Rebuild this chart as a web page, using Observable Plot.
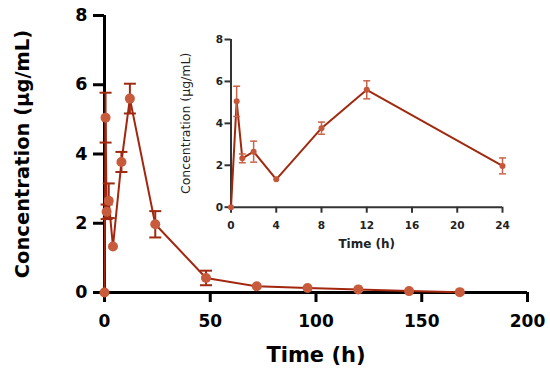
<!DOCTYPE html>
<html><head><meta charset="utf-8">
<script src="https://cdn.jsdelivr.net/npm/d3@7"></script>
<script src="https://cdn.jsdelivr.net/npm/@observablehq/plot@0.6"></script>
<style>
body{margin:0;background:#fff;}
#wrap{position:relative;width:550px;height:371px;overflow:hidden;}
#wrap svg{position:absolute;}
</style></head><body><div id="wrap"></div>
<script>
const times = [0, 0.5, 1, 2, 4, 8, 12, 24, 48, 72, 96, 120, 144, 168];
const conc  = [0, 5.05, 2.33, 2.65, 1.33, 3.77, 5.6, 1.97, 0.42, 0.18, 0.13, 0.09, 0.04, 0.01];
const sd    = [0, 0.72, 0.21, 0.5, 0.05, 0.29, 0.43, 0.38, 0.21, 0.03, 0.02, 0.02, 0.01, 0.01];
const mainXTicks = [0, 50, 100, 150, 200];
const mainYTicks = [0, 2, 4, 6, 8];
const insetXTicks = [0, 4, 8, 12, 16, 20, 24];
const insetYTicks = [0, 2, 4, 6, 8];
const xTitle = "Time (h)";
const yTitle = "Concentration (μg/mL)";

const data = times.map((t, i) => ({t, c: conc[i], sd: sd[i], lo: conc[i] - sd[i], hi: conc[i] + sd[i]}));
const errs = data.filter(d => d.sd >= 0.1);
const insetData = data.filter(d => d.t <= 24);
const insetErrs = errs.filter(d => d.t <= 24);
const cap = {draw(ctx, size) { const w = Math.sqrt(size / Math.PI); ctx.moveTo(-w, 0); ctx.lineTo(w, 0); }};

const wrap = document.getElementById("wrap");

const main = Plot.plot({
  width: 550, height: 371,
  marginLeft: 104, marginRight: 23, marginTop: 15, marginBottom: 79,
  style: {fontFamily: "DejaVu Sans", color: "#000", background: "transparent", overflow: "visible"},
  x: {domain: [0, 200]},
  y: {domain: [0, 8]},
  marks: [
    Plot.axisX(mainXTicks, {tickSize: 10, tickPadding: 12, fontSize: 17, fontWeight: "bold", strokeWidth: 3, label: null}),
    Plot.axisY(mainYTicks, {tickSize: 11, tickPadding: 6, fontSize: 17.5, fontWeight: "bold", strokeWidth: 3, label: null}),
    Plot.ruleY([0], {stroke: "#000", strokeWidth: 3}),
    Plot.ruleX([0], {stroke: "#000", strokeWidth: 3}),
    Plot.line(data, {x: "t", y: "c", stroke: "#a3260f", strokeWidth: 2}),
    Plot.ruleX(errs, {x: "t", y1: "lo", y2: "hi", stroke: "#9e2a12", strokeWidth: 2}),
    Plot.dot(errs, {x: "t", y: "hi", symbol: cap, r: 6, stroke: "#9e2a12", strokeWidth: 2, fill: "none"}),
    Plot.dot(errs, {x: "t", y: "lo", symbol: cap, r: 6, stroke: "#9e2a12", strokeWidth: 2, fill: "none"}),
    Plot.dot(data, {x: "t", y: "c", r: 5, fill: "#c75b3c"}),
    Plot.text([yTitle], {text: d => d, frameAnchor: "left", dx: -81.5, rotate: -90, textAnchor: "middle", lineAnchor: "middle", fontSize: 19.5, fontWeight: "bold", fill: "#000"}),
    Plot.text([xTitle], {text: d => d, frameAnchor: "bottom", dy: 63, textAnchor: "middle", lineAnchor: "middle", fontSize: 21, fontWeight: "bold", fill: "#000"})
  ]
});
main.style.left = "0px"; main.style.top = "0px";
wrap.appendChild(main);

const inset = Plot.plot({
  width: 370, height: 245,
  marginLeft: 80.5, marginRight: 18, marginTop: 19, marginBottom: 58.3,
  style: {fontFamily: "DejaVu Sans", color: "#222", background: "transparent", overflow: "visible"},
  x: {domain: [0, 24]},
  y: {domain: [0, 8]},
  marks: [
    Plot.axisX(insetXTicks, {tickSize: 6, tickPadding: 8, fontSize: 10.5, fontWeight: "bold", stroke: "#333", strokeWidth: 2, label: null}),
    Plot.axisY(insetYTicks, {tickSize: 6, tickPadding: 2, fontSize: 10.5, fontWeight: "bold", stroke: "#333", strokeWidth: 2, label: null}),
    Plot.ruleY([0], {stroke: "#333", strokeWidth: 2}),
    Plot.ruleX([0], {stroke: "#333", strokeWidth: 2}),
    Plot.line(insetData, {x: "t", y: "c", stroke: "#a02a10", strokeWidth: 2}),
    Plot.ruleX(insetErrs, {x: "t", y1: "lo", y2: "hi", stroke: "#c8644a", strokeWidth: 1.5}),
    Plot.dot(insetErrs, {x: "t", y: "hi", symbol: cap, r: 3.5, stroke: "#c8644a", strokeWidth: 1.5, fill: "none"}),
    Plot.dot(insetErrs, {x: "t", y: "lo", symbol: cap, r: 3.5, stroke: "#c8644a", strokeWidth: 1.5, fill: "none"}),
    Plot.dot(insetData, {x: "t", y: "c", r: 3, fill: "#c4563a"}),
    Plot.text([yTitle], {text: d => d, frameAnchor: "left", dx: -45.5, rotate: -90, textAnchor: "middle", lineAnchor: "middle", fontSize: 12.5, fill: "#222"}),
    Plot.text([xTitle], {text: d => d, frameAnchor: "bottom", dy: 37, textAnchor: "middle", lineAnchor: "middle", fontSize: 12, fontWeight: "bold", fill: "#222"})
  ]
});
inset.style.left = "150px"; inset.style.top = "20px";
wrap.appendChild(inset);
</script>
</body></html>
